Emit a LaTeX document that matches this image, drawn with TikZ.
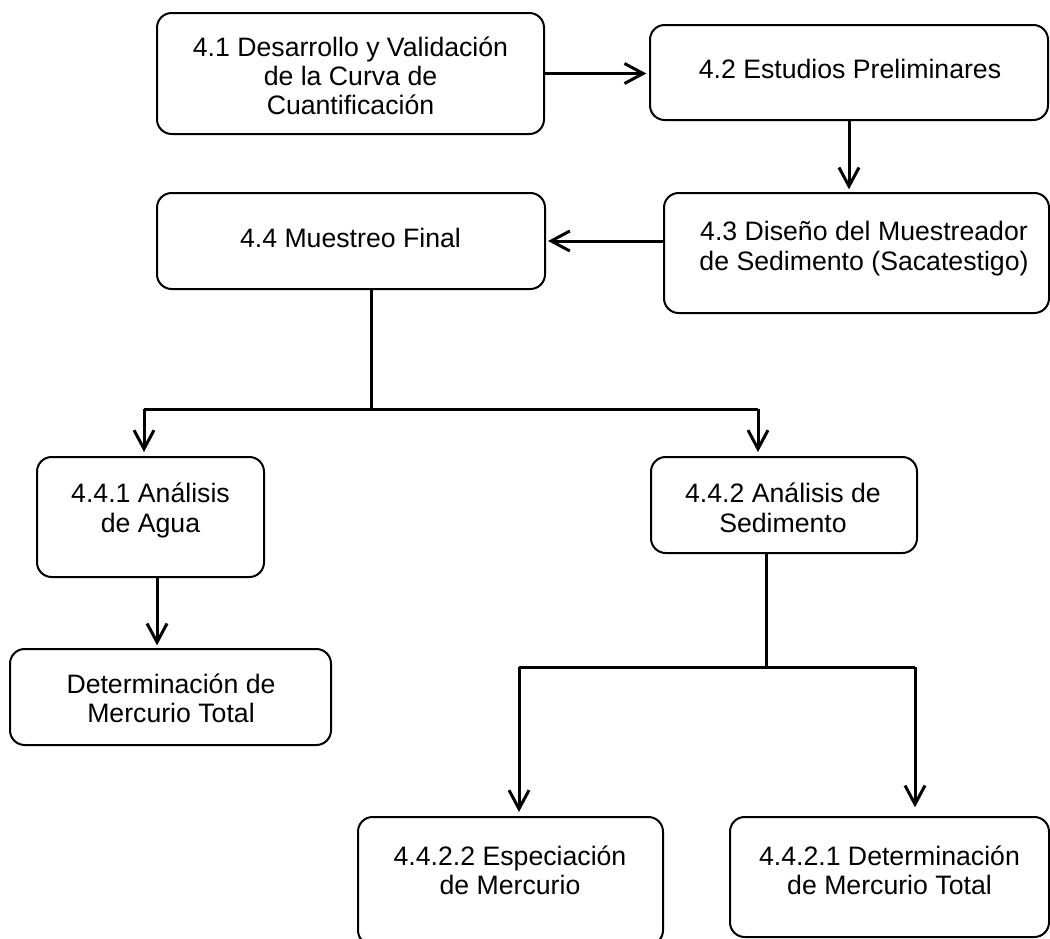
\documentclass[tikz,border=0pt]{standalone}
\usepackage{fontspec}
\setmainfont{Liberation Sans}
\usetikzlibrary{arrows.meta}
\begin{document}
\begin{tikzpicture}[x=0.75pt,y=-0.75pt,
  box/.style={draw, line width=1.5pt, rounded corners=11pt, inner sep=0pt},
  lbl/.style={inner sep=0pt, align=center, font=\fontsize{20}{22}\selectfont},
  conn/.style={line width=2.25pt},
  arr/.style={conn, -{Straight Barb[length=14pt,width=15pt]}},
]
\useasboundingbox (0,0) rectangle (1050,939);

% boxes
\node[box, minimum width=290.25pt, minimum height=90.75pt] (b41)   at (350.5,73.5) {};
\node[box, minimum width=298.5pt,  minimum height=71.25pt] (b42)   at (849,72.5) {};
\node[box, minimum width=288.75pt, minimum height=90pt]    (b43)   at (856.5,253) {};
\node[box, minimum width=291pt,    minimum height=72pt]    (b44)   at (351,241) {};
\node[box, minimum width=170.25pt, minimum height=90pt]    (b441)  at (150.5,517) {};
\node[box, minimum width=240.75pt, minimum height=72pt]    (bdet)  at (170.5,697) {};
\node[box, minimum width=199.5pt,  minimum height=72pt]    (b442)  at (784,505) {};
\node[box, minimum width=228.75pt, minimum height=96pt]    (b4422) at (510.5,881) {};
\node[box, minimum width=239.25pt, minimum height=90pt]    (b4421) at (889.5,877) {};

% texts
\node[lbl] (t41)   at (350.5,79.6) {\strut 4.1 Desarrollo y Validación\\\strut de la Curva de\\\strut Cuantificación};
\node[lbl] (t42)   at (850,73.1)   {\strut 4.2 Estudios Preliminares};
\node[lbl] (t43)   at (864,249.6)  {\strut 4.3 Diseño del Muestreador\\\strut de Sedimento (Sacatestigo)};
\node[lbl] (t44)   at (350.5,242.1){\strut 4.4 Muestreo Final};
\node[lbl] (t441)  at (150.5,511.6){\strut 4.4.1 Análisis\\\strut de Agua};
\node[lbl] (tdet)  at (171,702.1)  {\strut Determinación de\\\strut Mercurio Total};
\node[lbl] (t442)  at (783,511.6)  {\strut 4.4.2 Análisis de\\\strut Sedimento};
\node[lbl] (t4422) at (510,874.1)  {\strut 4.4.2.2 Especiación\\\strut de Mercurio};
\node[lbl] (t4421) at (889.5,874.1){\strut 4.4.2.1 Determinación\\\strut de Mercurio Total};

% junction points
\coordinate (s1)  at (371,409);
\coordinate (s1l) at (144,409);
\coordinate (s1r) at (758,409);
\coordinate (s2)  at (766,667);
\coordinate (s2l) at (519,667);
\coordinate (s2r) at (915,667);

% connectors
\draw[arr, shorten >=2pt] (b41.east) -- (b41.east -| b42.west);
\draw[arr, shorten >=2pt] (b42.south) -- (b42.south |- b43.north);
\draw[arr, shorten >=1.5pt] (b43.west |- b44.east) -- (b44.east);
\draw[conn] (b44.south -| s1) -- (s1);
\draw[conn] (s1l) -- (s1r);
\draw[arr, shorten >=3pt] (s1l) -- (s1l |- b441.north);
\draw[arr, shorten >=3pt] (s1r) -- (s1r |- b442.north);
\draw[arr, shorten >=2pt] ([xshift=4.9pt]b441.south) -- ([xshift=4.9pt]b441.south |- bdet.north);
\draw[conn] (b442.south -| s2) -- (s2);
\draw[conn] (s2l) -- (s2r);
\draw[arr, shorten >=3pt] (s2l) -- (s2l |- b4422.north);
\draw[arr, shorten >=6.5pt] (s2r) -- (s2r |- b4421.north);
\end{tikzpicture}
\end{document}
